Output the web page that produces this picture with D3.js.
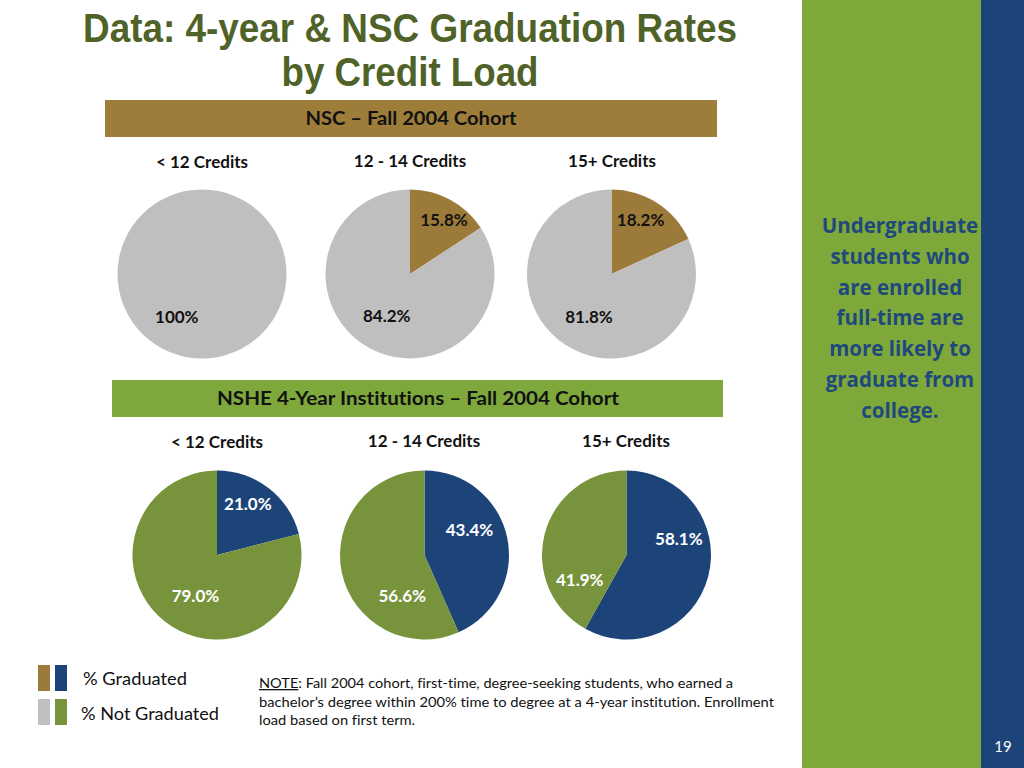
<!DOCTYPE html>
<html>
<head>
<meta charset="utf-8">
<script src="https://cdn.jsdelivr.net/npm/d3@7"></script>
<style>
  html, body { margin: 0; padding: 0; background: #fff; }
  svg { display: block; }
  text { font-variant-ligatures: none; }
</style>
</head>
<body>
<div id="chart"></div>
<script>
// ---------------- DATA ----------------
const categories = ["< 12 Credits", "12 - 14 Credits", "15+ Credits"];
const seriesNames = ["% Graduated", "% Not Graduated"];
const nscGraduated = [0, 15.8, 18.2];
const nscNotGraduated = [100, 84.2, 81.8];
const nsheGraduated = [21.0, 43.4, 58.1];
const nsheNotGraduated = [79.0, 56.6, 41.9];
const nscLabels = [["", "100%"], ["15.8%", "84.2%"], ["18.2%", "81.8%"]];
const nsheLabels = [["21.0%", "79.0%"], ["43.4%", "56.6%"], ["58.1%", "41.9%"]];
const panelTitles = ["NSC \u2013 Fall 2004 Cohort", "NSHE 4-Year Institutions \u2013 Fall 2004 Cohort"];
const titleLines = ["Data: 4-year & NSC Graduation Rates", "by Credit Load"];
const sideLines = ["Undergraduate", "students who", "are enrolled", "full-time are", "more likely to", "graduate from", "college."];
const noteLines = [
  "Fall 2004 cohort, first-time, degree-seeking students,  who earned a",
  "bachelor\u2019s degree within 200% time to degree at a 4-year institution.  Enrollment",
  "load based on first term."
];
const pageNumber = "19";

// ---------------- LAYOUT / STYLE ----------------
const W = 1024, H = 768;
const C = {
  gold: "#9C7B3A", grey: "#BFBFBF", blue: "#1D4479", green: "#77933C",
  bannerGold: "#9E7D3A", bannerGreen: "#7EA83B", panelGreen: "#7EA83A",
  strip: "#1D4479", title: "#4F6228", sideText: "#1F497D"
};
const calibri = "Lato, 'Open Sans', sans-serif";
const R = 84.5;
// label placement for each pie (angle in degrees clockwise from 12 o'clock, radius in px)
const labelPolarNSC = [[[0, 0], [211, 49]], [[32, 64], [209, 48]], [[28, 62], [208, 48]]];
const labelPolarNSHE = [[[31, 60], [208, 46]], [[60, 52], [209, 46]], [[72, 55], [242, 53]]];

const svg = d3.select("#chart").append("svg").attr("width", W).attr("height", H);

// right panel
svg.append("rect").attr("x", 802).attr("y", 0).attr("width", 179).attr("height", H).attr("fill", C.panelGreen);
svg.append("rect").attr("x", 981).attr("y", 0).attr("width", 43).attr("height", H).attr("fill", C.strip);
svg.append("text").attr("x", 1003).attr("y", 752).attr("text-anchor", "middle")
  .attr("font-family", calibri).attr("font-size", 15).attr("fill", "#fff").text(pageNumber);

const side = svg.append("text").attr("text-anchor", "middle").attr("font-family", "'Open Sans', sans-serif")
  .attr("font-weight", 700).attr("font-size", 20.5).attr("fill", C.sideText);
sideLines.forEach((t, i) => {
  side.append("tspan").attr("x", 900).attr("y", 233 + i * 30.8).text(t);
});

// title
titleLines.forEach((t, i) => {
  const el = svg.append("text").attr("x", 410).attr("y", i === 0 ? 42 : 86)
    .attr("text-anchor", "middle")
    .attr("font-family", "'Liberation Sans Narrow', 'Liberation Sans', Arial, sans-serif")
    .attr("font-weight", 700).attr("font-size", 40).attr("fill", C.title).text(t);
  el.attr("textLength", i === 0 ? 654 : 257).attr("lengthAdjust", "spacingAndGlyphs");
});

// banners
const banners = [
  { x: 105, y: 100, w: 612, h: 37, fill: C.bannerGold, cx: 411 },
  { x: 112, y: 380, w: 611, h: 37, fill: C.bannerGreen, cx: 418 }
];
banners.forEach((b, i) => {
  svg.append("rect").attr("x", b.x).attr("y", b.y).attr("width", b.w).attr("height", b.h).attr("fill", b.fill);
  svg.append("text").attr("x", b.cx).attr("y", b.y + 25).attr("text-anchor", "middle")
    .attr("font-family", calibri).attr("font-weight", 700).attr("font-size", 18).attr("fill", "#111")
    .attr("textLength", i === 0 ? 211 : 402).attr("lengthAdjust", "spacingAndGlyphs")
    .text(panelTitles[i]);
});

// pies
const pie = d3.pie().sort(null).value(d => d);
const arc = d3.arc().innerRadius(0).outerRadius(R);

const rows = [
  { grad: nscGraduated, not: nscNotGraduated, labels: nscLabels, polar: labelPolarNSC,
    colors: [C.gold, C.grey], textColor: "#111", cx: [202, 410, 611.5], cy: 274, titleY: 167, titleX: [202, 410, 612] },
  { grad: nsheGraduated, not: nsheNotGraduated, labels: nsheLabels, polar: labelPolarNSHE,
    colors: [C.blue, C.green], textColor: "#fff", cx: [217, 424.5, 626.5], cy: 555, titleY: 447, titleX: [217, 424, 626] }
];

rows.forEach(row => {
  categories.forEach((cat, j) => {
    svg.append("text").attr("x", row.titleX[j]).attr("y", row.titleY + (j === 0 ? 1 : 0))
      .attr("text-anchor", "middle").attr("font-family", calibri).attr("font-weight", 700)
      .attr("font-size", 17).attr("fill", "#111").text(cat);

    const g = svg.append("g").attr("transform", `translate(${row.cx[j]},${row.cy})`);
    const arcs = pie([row.grad[j], row.not[j]]);
    g.selectAll("path").data(arcs).join("path")
      .attr("d", arc).attr("fill", (d, k) => row.colors[k]);

    arcs.forEach((a, k) => {
      const lab = row.labels[j][k];
      if (!lab) return;
      const [ang, rr] = row.polar[j][k];
      const rad = ang * Math.PI / 180;
      g.append("text").attr("x", Math.sin(rad) * rr).attr("y", -Math.cos(rad) * rr)
        .attr("text-anchor", "middle").attr("dominant-baseline", "central")
        .attr("font-family", calibri).attr("font-weight", 700).attr("font-size", 17)
        .attr("fill", row.textColor).text(lab);
    });
  });
});

// legend
const legendColors = [[C.gold, C.blue], [C.grey, C.green]];
legendColors.forEach((pair, i) => {
  pair.forEach((col, k) => {
    svg.append("rect").attr("x", 38 + k * 17).attr("y", 665 + i * 34).attr("width", 12).attr("height", 26).attr("fill", col);
  });
  svg.append("text").attr("x", i === 0 ? 83 : 81).attr("y", 685 + i * 35)
    .attr("font-family", calibri).attr("font-size", 17).attr("fill", "#111")
    .attr("textLength", i === 0 ? 104 : 138).attr("lengthAdjust", "spacingAndGlyphs")
    .text(seriesNames[i]);
});

// note
const noteLens = [474, 515, 156];
noteLines.forEach((t, i) => {
  const el = svg.append("text").attr("x", 259).attr("y", 688 + i * 18.5)
    .attr("font-family", calibri).attr("font-size", 13).attr("fill", "#111")
    .attr("textLength", noteLens[i]).attr("lengthAdjust", "spacingAndGlyphs");
  if (i === 0) {
    el.append("tspan").attr("text-decoration", "underline").text("NOTE");
    el.append("tspan").text(": " + t);
  } else {
    el.text(t);
  }
});
</script>
</body>
</html>
